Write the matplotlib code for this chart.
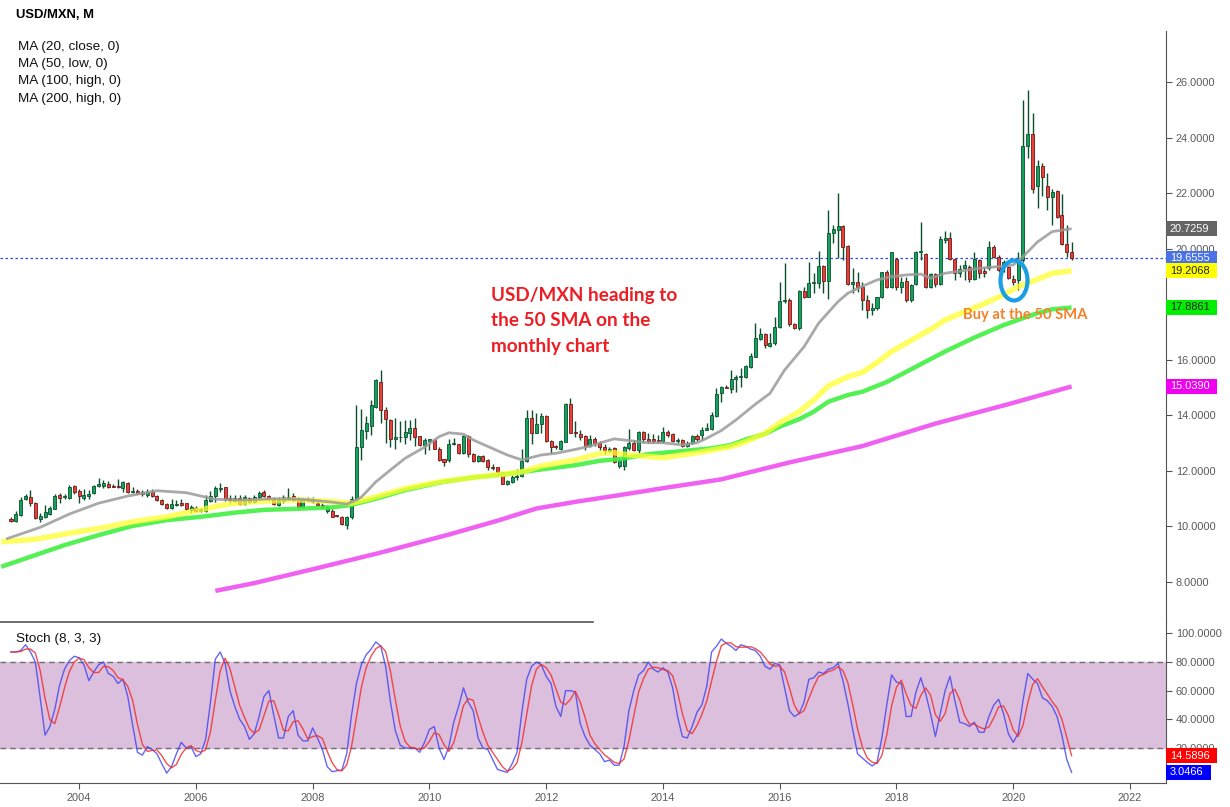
import numpy as np
import matplotlib
matplotlib.use("Agg")
import matplotlib.pyplot as plt
from matplotlib.patches import Ellipse, Rectangle
import matplotlib.transforms as mtrans

plt.rcParams["font.family"] = ["Liberation Sans", "DejaVu Sans"]

# ---------------- data (monthly candles Nov 2002 .. Jan 2021) ----------------
opens = [10.26,10.18,10.41,11.00,11.04,10.85,10.26,10.34,10.44,10.63,11.13,11.04,11.03,11.45,11.28,11.01,11.09,11.19,11.46,11.46,
         11.52,11.46,11.45,11.39,11.57,11.22,11.28,11.23,11.14,11.25,11.09,10.95,10.81,10.65,10.78,10.84,10.83,10.59,10.67,10.56,
         10.56,10.92,11.09,11.35,11.40,11.02,10.92,11.03,10.80,11.02,10.86,11.04,11.23,11.08,11.00,10.78,10.92,11.00,11.08,10.98,
         10.68,10.98,10.97,10.85,10.77,10.56,10.56,10.38,10.35,10.05,10.32,10.97,12.84,13.45,13.62,14.31,15.21,14.19,13.83,13.15,
         13.20,13.23,13.37,13.53,13.24,12.94,13.08,13.10,12.80,12.42,12.39,12.95,12.95,12.65,13.25,12.62,12.36,12.53,12.38,12.14,
         12.12,11.95,11.52,11.60,11.76,11.80,12.36,13.89,13.37,13.68,13.97,13.07,12.89,12.77,13.05,14.40,13.38,13.34,13.25,12.90,
         13.13,12.99,12.87,12.72,12.81,12.17,12.17,12.81,12.99,12.75,13.39,13.13,13.13,13.12,13.06,13.39,13.31,13.07,13.11,12.89,
         12.99,13.25,13.29,13.47,13.49,13.97,14.79,15.03,14.94,15.30,15.39,15.39,15.73,16.11,16.74,16.92,16.51,16.59,17.17,18.12,
         18.16,17.28,17.16,18.48,18.28,18.78,18.78,19.38,18.85,20.56,20.68,20.84,20.10,18.74,18.80,18.64,18.16,17.80,17.88,18.26,
         19.16,18.64,19.64,18.62,18.84,18.16,18.74,19.90,19.82,18.64,19.09,18.74,20.32,20.40,19.64,19.12,19.30,19.36,18.92,19.59,
         19.20,19.30,20.05,19.72,19.42,19.36,18.93,18.88,19.60,23.71,24.14,22.25,22.99,22.27,21.86,22.09,21.22,20.18,19.88]
highs = [10.35,10.56,11.07,11.16,11.31,10.89,10.46,10.77,10.73,11.16,11.19,11.16,11.49,11.49,11.35,11.33,11.31,11.49,11.73,11.67,
         11.63,11.52,11.69,11.64,11.61,11.43,11.33,11.31,11.33,11.33,11.13,10.98,10.85,10.97,10.95,11.00,10.85,10.75,10.73,10.66,
         11.13,11.28,11.45,11.57,11.43,11.13,11.13,11.13,11.13,11.07,11.13,11.28,11.31,11.14,11.07,11.04,11.13,11.38,11.19,11.04,
         11.02,11.07,11.04,10.92,10.83,10.75,10.61,10.41,10.38,10.37,11.10,14.37,14.21,13.97,14.55,15.31,15.63,14.30,13.85,13.89,
         13.80,13.83,13.83,13.89,13.25,13.17,13.15,13.13,12.84,12.44,13.15,13.19,12.98,13.29,13.29,12.65,12.56,12.57,12.41,12.24,
         12.15,11.97,11.67,11.84,12.05,12.80,14.19,14.19,14.07,14.09,14.01,13.10,12.93,13.10,14.45,14.61,13.80,13.47,13.30,13.29,
         13.20,13.09,12.95,12.87,12.87,12.45,12.89,13.49,13.11,13.45,13.45,13.37,13.33,13.29,13.59,13.47,13.35,13.17,13.13,13.09,
         13.29,13.33,13.59,13.73,14.13,14.97,15.05,15.09,15.63,15.45,15.69,15.81,16.23,17.32,17.14,16.98,16.96,17.53,18.82,19.48,
         18.22,17.32,18.52,18.64,19.54,19.12,19.94,19.42,21.40,20.86,22.00,20.86,20.14,19.30,19.16,18.82,18.34,18.04,18.28,19.18,
         19.24,19.90,19.66,19.00,19.00,18.74,19.94,20.95,19.85,19.12,19.14,20.47,20.66,20.62,19.66,19.42,19.60,19.40,19.87,19.62,
         19.36,20.29,20.14,19.78,19.60,19.38,19.06,19.87,25.37,25.73,24.89,23.20,23.09,22.72,22.15,22.12,21.98,20.86,20.26]
lows = [10.15,10.15,10.38,10.95,10.73,10.27,10.17,10.31,10.40,10.61,10.85,11.00,11.00,11.16,10.85,10.95,10.98,11.16,11.43,11.37,
        11.39,11.40,11.38,11.25,11.21,11.19,11.16,11.09,11.04,11.07,10.91,10.75,10.62,10.61,10.73,10.73,10.59,10.47,10.51,10.53,
        10.53,10.89,10.89,11.23,10.92,10.83,10.86,10.77,10.78,10.83,10.83,10.99,11.04,10.95,10.77,10.73,10.85,10.95,10.90,10.65,
        10.66,10.89,10.83,10.73,10.65,10.49,10.32,10.33,10.04,9.90,10.25,10.90,12.39,13.13,13.29,14.28,13.73,13.01,12.87,12.77,
        13.05,12.95,13.10,12.90,12.89,12.62,12.74,12.77,12.36,12.18,12.33,12.93,12.60,12.60,12.50,12.33,12.33,12.33,12.02,12.02,
        11.93,11.52,11.48,11.56,11.67,11.78,12.33,12.97,13.35,13.35,13.05,12.63,12.80,12.75,13.02,13.35,13.20,13.10,12.75,12.87,
        12.90,12.75,12.60,12.69,12.27,12.09,12.03,12.75,12.73,12.65,12.99,12.99,12.99,13.01,12.99,13.23,13.05,13.01,12.87,12.87,
        12.95,13.09,13.11,13.47,13.47,13.95,14.49,14.97,14.79,14.85,15.03,15.33,15.69,16.11,16.71,16.41,16.47,16.53,17.14,18.04,
        17.22,17.10,17.08,18.22,18.25,18.40,18.58,18.40,18.18,20.20,19.66,19.60,18.70,18.40,18.46,17.80,17.50,17.62,17.80,18.22,
        18.58,18.58,18.52,18.40,18.10,18.10,18.70,19.60,18.58,18.58,18.64,18.70,20.20,19.60,18.88,19.00,18.88,18.82,18.88,18.94,
        19.00,19.24,19.66,19.18,19.18,18.90,18.70,18.52,19.54,23.27,22.00,21.46,21.90,21.40,20.86,21.10,20.14,19.72,19.60]
closes = [10.18,10.43,10.95,11.09,10.83,10.31,10.36,10.51,10.66,11.09,11.03,11.06,11.43,11.25,11.10,11.13,11.16,11.45,11.51,11.57,
          11.43,11.43,11.40,11.59,11.25,11.27,11.21,11.16,11.23,11.08,10.93,10.80,10.65,10.79,10.81,10.77,10.61,10.68,10.56,10.61,
          10.95,11.09,11.37,11.39,10.97,10.95,11.02,10.80,11.04,10.86,11.04,11.19,11.09,10.99,10.80,10.95,11.05,11.07,10.95,10.68,
          10.97,10.93,10.86,10.75,10.68,10.68,10.35,10.36,10.07,10.32,10.97,12.84,13.47,13.73,14.37,15.27,14.19,13.85,13.15,13.20,
          13.22,13.38,13.53,13.23,12.93,13.11,13.13,12.80,12.39,12.33,12.95,13.01,12.65,13.25,12.60,12.36,12.53,12.36,12.14,12.10,
          11.95,11.54,11.64,11.78,11.78,12.36,13.92,13.37,13.68,13.97,13.07,12.84,12.84,13.07,14.40,13.37,13.35,13.20,12.90,13.13,
          12.99,12.87,12.75,12.78,12.33,12.39,12.84,12.99,12.75,13.41,13.13,13.06,13.06,13.06,13.39,13.29,13.09,13.11,12.89,13.01,
          13.25,13.13,13.47,13.53,14.01,14.77,15.01,14.98,15.30,15.39,15.43,15.78,16.14,16.77,16.92,16.53,16.59,17.17,18.12,18.16,
          17.28,17.16,18.48,18.28,18.78,18.80,19.38,18.85,20.56,20.71,20.84,20.08,18.74,18.82,18.64,18.16,17.80,17.88,18.26,19.16,
          18.62,19.90,18.64,18.82,18.16,18.70,19.90,19.94,18.64,19.09,18.74,20.35,20.40,19.64,19.12,19.26,19.41,18.92,19.62,19.12,
          19.12,20.08,19.72,19.24,19.54,18.94,18.82,19.60,23.71,24.14,22.15,22.99,22.60,21.86,22.06,21.16,20.18,19.88,19.6555]

# moving averages (month index, value)
ma20_month = [-1,6,12,18,24,30,36,42,48,54,60,66,69,71,72,75,78,81,85,88,90,93,95,99,102,105,109,112,116,119,122,124,127,131,
              134,138,141,143,146,149,153,156,159,163,166,170,172,175,178,181,184,187,189,192,196,199,203,206,208,211,214,218]
ma20_close = [9.54,9.96,10.44,10.83,11.09,11.28,11.21,10.97,10.95,10.99,10.97,10.87,10.80,10.95,11.05,11.60,12.03,12.45,12.85,
              13.23,13.37,13.32,13.11,12.80,12.57,12.39,12.57,12.63,12.77,12.89,13.05,13.15,13.09,13.01,13.01,12.93,13.01,13.17,
              13.45,13.83,14.40,14.79,15.63,16.47,17.32,18.10,18.40,18.65,18.88,19.00,19.06,19.09,18.94,19.12,19.22,19.30,19.36,
              19.42,19.72,20.25,20.62,20.7259]
ma50_month = [-2,5,11,18,25,32,39,42,46,49,52,59,66,70,75,81,88,95,102,105,109,116,121,124,127,134,141,148,151,155,158,162,165,
              168,172,175,178,181,184,187,190,192,197,201,204,207,211,214,218]
ma50_low = [9.44,9.53,9.72,9.92,10.16,10.34,10.59,10.71,10.83,10.87,10.90,10.95,10.89,10.83,11.06,11.36,11.60,11.76,11.90,11.96,
            12.17,12.39,12.62,12.65,12.57,12.47,12.65,12.87,13.05,13.35,13.73,14.13,14.55,15.06,15.39,15.55,15.90,16.30,16.60,
            16.90,17.20,17.44,17.80,18.10,18.34,18.64,18.90,19.12,19.2068]
ma100_month = [-2,5,11,18,25,32,39,46,52,59,66,70,75,81,88,95,102,109,116,121,125,131,138,144,148,151,155,158,162,165,168,172,
               175,180,186,192,198,204,208,211,214,218]
ma100_high = [8.54,8.96,9.32,9.68,10.01,10.22,10.34,10.49,10.59,10.63,10.68,10.77,10.99,11.30,11.57,11.76,11.88,12.05,12.20,12.36,
              12.42,12.60,12.71,12.81,12.93,13.13,13.33,13.59,13.86,14.13,14.49,14.73,14.85,15.20,15.75,16.30,16.80,17.25,17.50,
              17.68,17.82,17.8861]
ma200_month = [42,50,62,76,90,100,108,116,125,135,146,160,175,190,205,218]
ma200_high = [7.67,7.95,8.45,9.05,9.70,10.20,10.64,10.88,11.12,11.40,11.69,12.30,12.89,13.70,14.40,15.039]

# stochastic (8,3,3) slow %K
stoch_k = [87,87,88,92,87,80,55,29,35,47,64,75,81,84,83,78,67,73,78,80,72,70,65,68,56,36,17,15,21,19,16,9,2.5,7,16,24,20,21,14,16,
           26,52,82,87,79,60,49,40,35,26,30,42,56,60,43,27,27,42,46,29,25,25,34,27,19,7,3.5,4.2,4.5,16,43,65,78,85,89,94,91,77,52,32,
           22,20,20,20,17,24,33,35,20,12,21,38,49,62,52,46,27,20,19,12,5,4,3,9,17,45,68,77,80,78,70,65,49,42,60,60,59,37,28,22,
           19,16,10.5,11.6,8,8,21,46,60,71,74,80,75,73,76,73,62,42,28,27,35,45,50,63,87,91,96,93,91,88,92,91,89,88,84,77,75,79,78,62,
           46,42,44,52,68,69,73,72,75,76,79,67,51,33,16,13,10,7.5,10,27,50,71,66,65,42,42,59,69,58,44,28,44,60,70,53,38,37,35,38,31,
           31,42,50,54,44,30,24,30,53,72,68,65,55,53,49,42,29,12,3.0466]

year_labels = ["2004", "2006", "2008", "2010", "2012", "2014", "2016", "2018", "2020", "2022"]
year_month = [14, 38, 62, 86, 110, 134, 158, 182, 206, 230]
price_ticks = [8, 10, 12, 14, 16, 18, 20, 22, 24, 26]
stoch_ticks = [20, 40, 60, 80, 100]

# ---------------- figure ----------------
W, H = 1230, 807
fig = plt.figure(figsize=(W / 100, H / 100), dpi=100)
axis_right = 1166
ax = fig.add_axes([0, (H - 622) / H, axis_right / W, (622 - 31) / H])
ax2 = fig.add_axes([0, (H - 783) / H, axis_right / W, (783 - 622) / H])

x_lo, x_hi = -2.26, 237.4
gray_txt = "#5a5a5a"
axcol = "#555555"
FS = 7.9      # axis labels
FL = 9.7      # legend / panel labels

idx = np.arange(len(closes))
o = np.array(opens); h = np.array(highs); l = np.array(lows); c = np.array(closes)
up = c >= o
wick_col = "#0b4f2c"
ax.vlines(idx, l, h, color=wick_col, lw=1.0, zorder=2)
body_lo = np.minimum(o, c)
body_h = np.maximum(np.abs(c - o), 0.035)
ax.bar(idx[up], body_h[up], bottom=body_lo[up], width=0.62, color="#12a35e", edgecolor="#0b4f2c", lw=0.6, zorder=3)
ax.bar(idx[~up], body_h[~up], bottom=body_lo[~up], width=0.62, color="#e8403a", edgecolor="#6e1a14", lw=0.6, zorder=3)

ax.plot(ma200_month, ma200_high, color="#f050f0", lw=3.2, alpha=0.9, solid_capstyle="butt", zorder=4)
ax.plot(ma100_month, ma100_high, color="#40f040", lw=3.2, alpha=0.9, solid_capstyle="butt", zorder=4)
ax.plot(ma50_month, ma50_low, color="#ffff30", lw=4.0, alpha=0.75, solid_capstyle="butt", zorder=5)
ax.plot(ma20_month, ma20_close, color="#9a9a9a", lw=2.0, alpha=0.85, solid_capstyle="butt", zorder=5)

ax.axhline(closes[-1], color="#2a4de0", lw=0.9, ls=(0, (2, 2)), zorder=1)

ax.set_xlim(x_lo, x_hi)
ax.set_ylim(6.548, 27.853)
for s in ["top", "left", "bottom"]:
    ax.spines[s].set_visible(False)
ax.spines["right"].set_color(axcol)
ax.yaxis.tick_right()
ax.set_yticks(price_ticks)
# the 18.0000 label is covered by the 17.8861 value box in the chart
ax.set_yticklabels(["" if v == 18 else f"{v:.4f}" for v in price_ticks])
ax.tick_params(axis="y", colors=axcol, labelcolor=gray_txt, labelsize=FS, length=4, pad=3)
ax.set_xticks([])
ax.patch.set_alpha(0)

# right-side value boxes (51 px wide, 15 px tall)
def vbox(axx, val, txt, bg, fg, wpx=51):
    y0, y1 = axx.get_ylim()
    hpx = axx.get_position().height * H
    hdata = 15.0 * (y1 - y0) / hpx
    tr = axx.get_yaxis_transform()
    axx.add_patch(Rectangle((1.0, val - hdata / 2), wpx / axis_right, hdata, transform=tr, fc=bg, ec="none",
                            clip_on=False, zorder=9))
    axx.text(1.0 + 4 / axis_right, val, txt, transform=tr, ha="left", va="center", fontsize=FS,
             color=fg, zorder=10, clip_on=False)
vbox(ax, 20.7259, "20.7259", "#646464", "white")
vbox(ax, 19.6555, "19.6555", "#4a72e6", "white")
vbox(ax, 19.2068, "19.2068", "#ffff00", "#222222")
vbox(ax, 17.8861, "17.8861", "#00ee00", "#222222")
vbox(ax, 15.0390, "15.0390", "#f000f0", "white")

# texts
fig.text(16 / W, 1 - 15 / H, "USD/MXN, M", fontsize=9.4, fontweight="bold", va="center", ha="left")
for kk, t in enumerate(["MA (20, close, 0)", "MA (50, low, 0)", "MA (100, high, 0)", "MA (200, high, 0)"]):
    fig.text(18 / W, 1 - (47 + 17.2 * kk) / H, t, fontsize=FL, va="center", ha="left", color="#111111")

for kk, t in enumerate(["USD/MXN heading to", "the 50 SMA on the", "monthly chart"]):
    fig.text(491 / W, 1 - (295 + 25.7 * kk) / H, t, fontsize=13.6, fontweight="bold",
             family=["Lato", "DejaVu Sans"], color="#ee1d23", va="center", ha="left")
fig.text(963 / W, 1 - 315 / H, "Buy at the 50 SMA", fontsize=10.6, fontweight="bold", family=["Lato", "DejaVu Sans"],
         color="#f5822a", va="center", ha="left")

ell = Ellipse((1014 / W, 1 - 280.5 / H), 27 / W, 40 / H, transform=fig.transFigure, fill=False,
              ec="#1a9ee6", lw=3.0, zorder=20)
fig.patches.append(ell)

# ---------------- stochastic panel ----------------
k = np.array(stoch_k, dtype=float)
d = np.convolve(k, np.ones(3) / 3, mode="full")[:len(k)]
d[0] = k[0]; d[1] = (k[0] + k[1]) / 2
ax2.axhspan(20, 80, color="#dcbfdc", zorder=0)
ax2.axhline(80, color="#707070", lw=1.0, ls=(0, (4, 3)), zorder=1)
ax2.axhline(20, color="#707070", lw=1.0, ls=(0, (4, 3)), zorder=1)
ax2.plot(idx, k, color="#4040f0", lw=1.0, alpha=0.8, zorder=3)
ax2.plot(idx, d, color="#f03030", lw=1.0, alpha=0.85, zorder=3)
ax2.set_xlim(x_lo, x_hi)
ax2.set_ylim(-4.4, 107.9)
ax2.spines["top"].set_visible(False)
ax2.spines["left"].set_visible(False)
ax2.spines["right"].set_color(axcol)
ax2.spines["bottom"].set_color(axcol)
ax2.axhline(107.9, xmin=0, xmax=593 / axis_right, color=axcol, lw=1.2, clip_on=False)
ax2.yaxis.tick_right()
ax2.set_yticks(stoch_ticks)
ax2.set_yticklabels([f"{v:.4f}" for v in stoch_ticks])
ax2.set_xticks(year_month)
ax2.set_xticklabels(year_labels)
ax2.tick_params(axis="both", colors=axcol, labelcolor=gray_txt, labelsize=FS, length=4, pad=3)
ax2.patch.set_alpha(0)
vbox(ax2, 14.5896, "14.5896", "#ff0000", "white")
vbox(ax2, 3.0466, "3.0466", "#0000ff", "white", wpx=45)
ax2.text(16 / axis_right, 96, "Stoch (8, 3, 3)",
         transform=mtrans.blended_transform_factory(ax2.transAxes, ax2.transData),
         fontsize=FL, va="center", ha="left", color="#111111")

fig.savefig("out.png", dpi=100)
